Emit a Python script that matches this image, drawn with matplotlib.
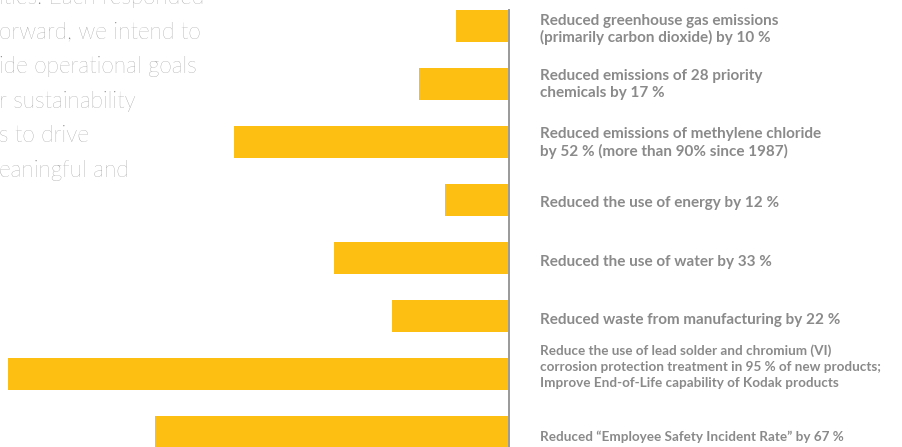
import matplotlib
matplotlib.use("Agg")
import matplotlib.pyplot as plt
import numpy as np

labels = [
    "Reduced greenhouse gas emissions\n(primarily carbon dioxide) by 10 %",
    "Reduced emissions of 28 priority\nchemicals by 17 %",
    "Reduced emissions of methylene chloride\nby 52 % (more than 90% since 1987)",
    "Reduced the use of energy by 12 %",
    "Reduced the use of water by 33 %",
    "Reduced waste from manufacturing by 22 %",
    "Reduce the use of lead solder and chromium (VI)\ncorrosion protection treatment in 95 % of new products;\nImprove End-of-Life capability of Kodak products",
    "Reduced \u201cEmployee Safety Incident Rate\u201d by 67 %",
]
values = [10, 17, 52, 12, 33, 22, 95, 67]
paragraph = [
    "ities. Each responded",
    "orward, we intend to",
    "ide operational goals",
    "r sustainability",
    "s to drive",
    "eaningful and",
]

# layout (pixels)
label_dy = [3.5, 0.5, 1, 3, 4, 3.5, -7.5, 5]
label_size = [11, 11, 11, 11, 11, 11, 9.7, 9.7]
label_ls = [1.2, 1.2, 1.2, 1.2, 1.2, 1.2, 1.42, 1.2]

W, H = 903, 447
fig = plt.figure(figsize=(W / 100, H / 100), dpi=100)
ax = fig.add_axes([0, 0, 1, 1])

px_per_unit_x = 5.27
x0 = 508.3
ax.set_xlim(x0 / px_per_unit_x, -(W - x0) / px_per_unit_x)

px_per_row = 58.0
y0 = 26.0
ax.set_ylim((H - y0) / px_per_row, -y0 / px_per_row)

pos = np.arange(len(values))
ax.barh(pos, values, height=32 / px_per_row, color="#FCBF12", linewidth=0)
ax.vlines(-0.15, -17 / px_per_row, (H - y0) / px_per_row, color="#999999", linewidth=1.4)

for p, lab, dy, fs, ls in zip(pos, labels, label_dy, label_size, label_ls):
    ax.text(-31.5 / px_per_unit_x, p + dy / px_per_row, lab, ha="left", va="center",
            fontsize=fs, fontfamily="Lato", fontweight="bold",
            color="#8a8a8a", linespacing=ls)

for i, line in enumerate(paragraph):
    fig.text(-0.001, 1 - (4 + i * 34.6) / H, line, ha="left", va="baseline",
             fontsize=16.3, fontfamily="Lato", fontweight="light", color="#7f7f7f")

ax.axis("off")
fig.savefig("out.png", dpi=100)
